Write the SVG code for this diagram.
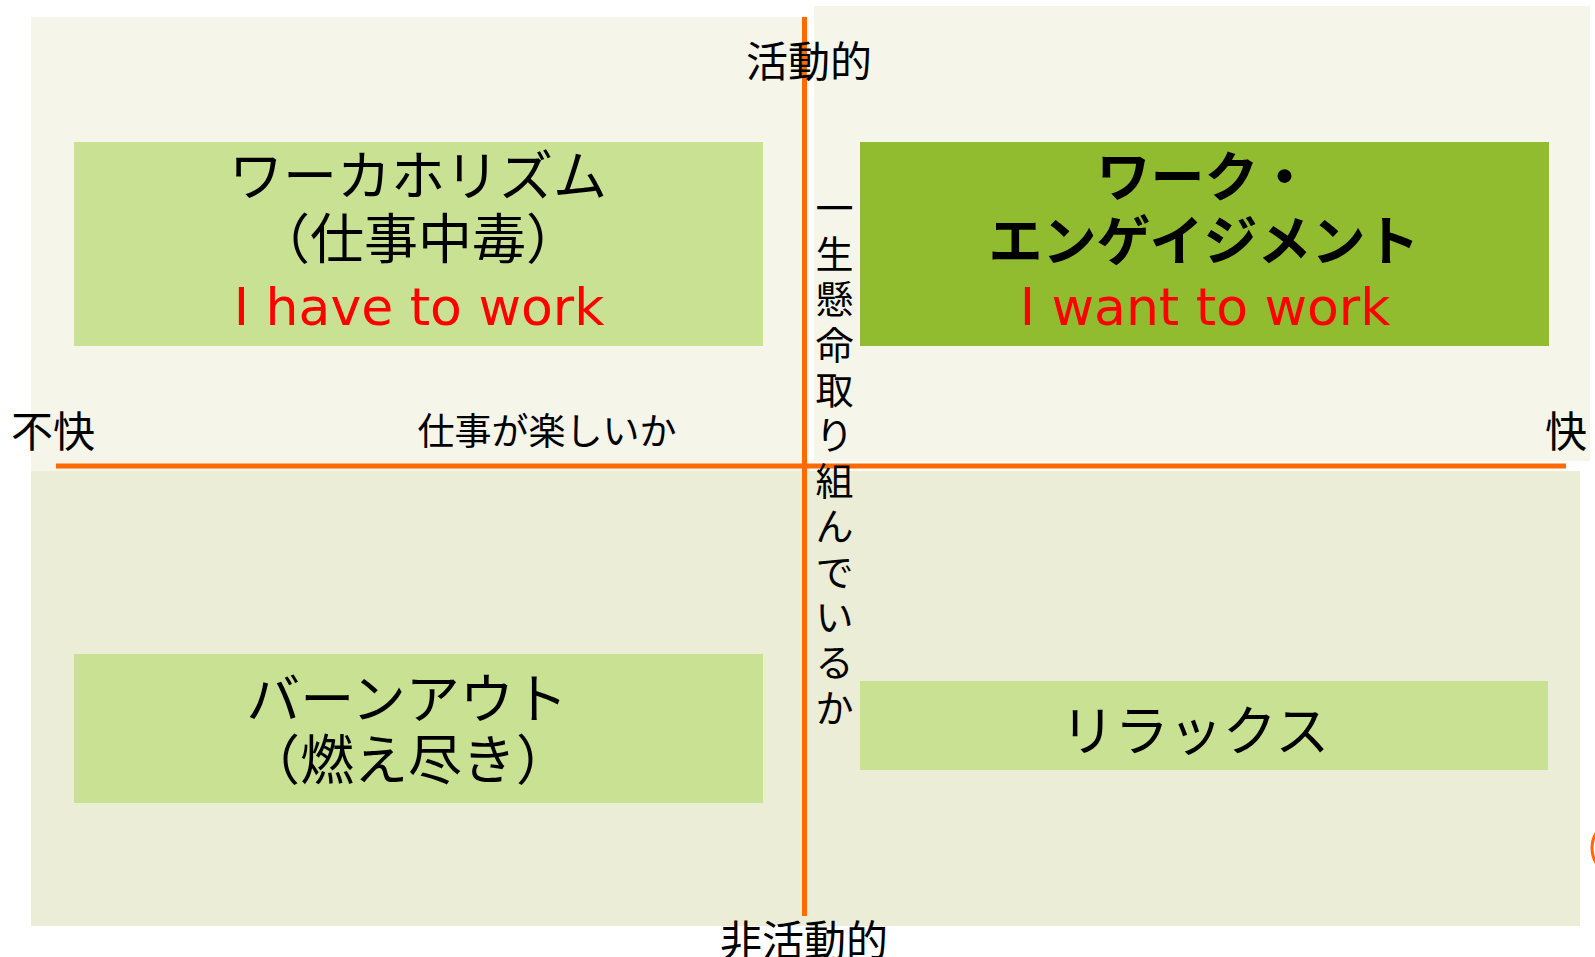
<svg xmlns="http://www.w3.org/2000/svg" width="1595" height="957" viewBox="0 0 1595 957">
<style>
.jp{font-family:"Noto Sans CJK JP","Noto Sans CJK SC",sans-serif;fill:#000}
.ttl{font-size:54px;text-anchor:middle}
.en{font-family:"DejaVu Sans","Liberation Sans",sans-serif;font-size:52px;fill:#FF0000}
.ax{font-size:42px}
.light{fill:#C9E193}
.dark{fill:#92BC30}
.axis{stroke:#FF6A00;stroke-width:5;fill:none}
</style>
<rect width="1595" height="957" fill="#FFFFFF"/>
<g id="backgrounds">
  <rect x="31" y="17" width="778" height="454" fill="#F5F5EA"/>
  <rect x="814" y="6" width="776" height="455" fill="#F5F5EA"/>
  <rect x="31" y="471" width="1549" height="455" fill="#EBEDD6"/>
</g>
<g id="connectors">
  <line class="axis" x1="56" y1="466" x2="1566" y2="466"/>
  <line class="axis" x1="804.5" y1="17" x2="804.5" y2="916"/>
  <circle cx="1621" cy="848" r="29" fill="none" stroke="#FF6A00" stroke-width="3"/>
</g>
<g id="node-workaholism">
  <rect class="light" x="74" y="142" width="689" height="204"/>
  <text class="jp ttl"><tspan x="418" y="196">ワーカホリズム</tspan><tspan x="418" y="259">（仕事中毒）</tspan><tspan class="en" x="419" y="325">I have to work</tspan></text>
</g>
<g id="node-engagement">
  <rect class="dark" x="860" y="142" width="689" height="204"/>
  <text class="jp ttl"><tspan x="1204" y="197" font-weight="700">ワーク・</tspan><tspan x="1204" y="261" font-weight="700">エンゲイジメント</tspan><tspan class="en" x="1205" y="325">I want to work</tspan></text>
</g>
<g id="node-burnout">
  <rect class="light" x="74" y="654" width="689" height="149"/>
  <text class="jp ttl"><tspan x="407" y="719">バーンアウト</tspan><tspan x="408" y="780">（燃え尽き）</tspan></text>
</g>
<g id="node-relax">
  <rect class="light" x="860" y="681" width="688" height="89"/>
  <text class="jp ttl" x="1195" y="751">リラックス</text>
</g>
<g id="labels">
  <text class="jp ax" x="809" y="77" text-anchor="middle">活動的</text>
  <text class="jp ax" x="804" y="956" text-anchor="middle">非活動的</text>
  <text class="jp ax" x="11" y="447">不快</text>
  <text class="jp ax" x="1587" y="447" text-anchor="end">快</text>
  <text class="jp" x="547" y="445" font-size="37" text-anchor="middle">仕事が楽しいか</text>
  <text class="jp" font-size="38" text-anchor="middle"><tspan x="834.5" y="222.4">一</tspan><tspan x="834.5" y="267.8">生</tspan><tspan x="834.5" y="313.2">懸</tspan><tspan x="834.5" y="358.6">命</tspan><tspan x="834.5" y="404">取</tspan><tspan x="834.5" y="449.4">り</tspan><tspan x="834.5" y="494.8">組</tspan><tspan x="834.5" y="540.2">ん</tspan><tspan x="834.5" y="585.6">で</tspan><tspan x="834.5" y="631">い</tspan><tspan x="834.5" y="676.4">る</tspan><tspan x="834.5" y="721.8">か</tspan></text>
</g>
</svg>
